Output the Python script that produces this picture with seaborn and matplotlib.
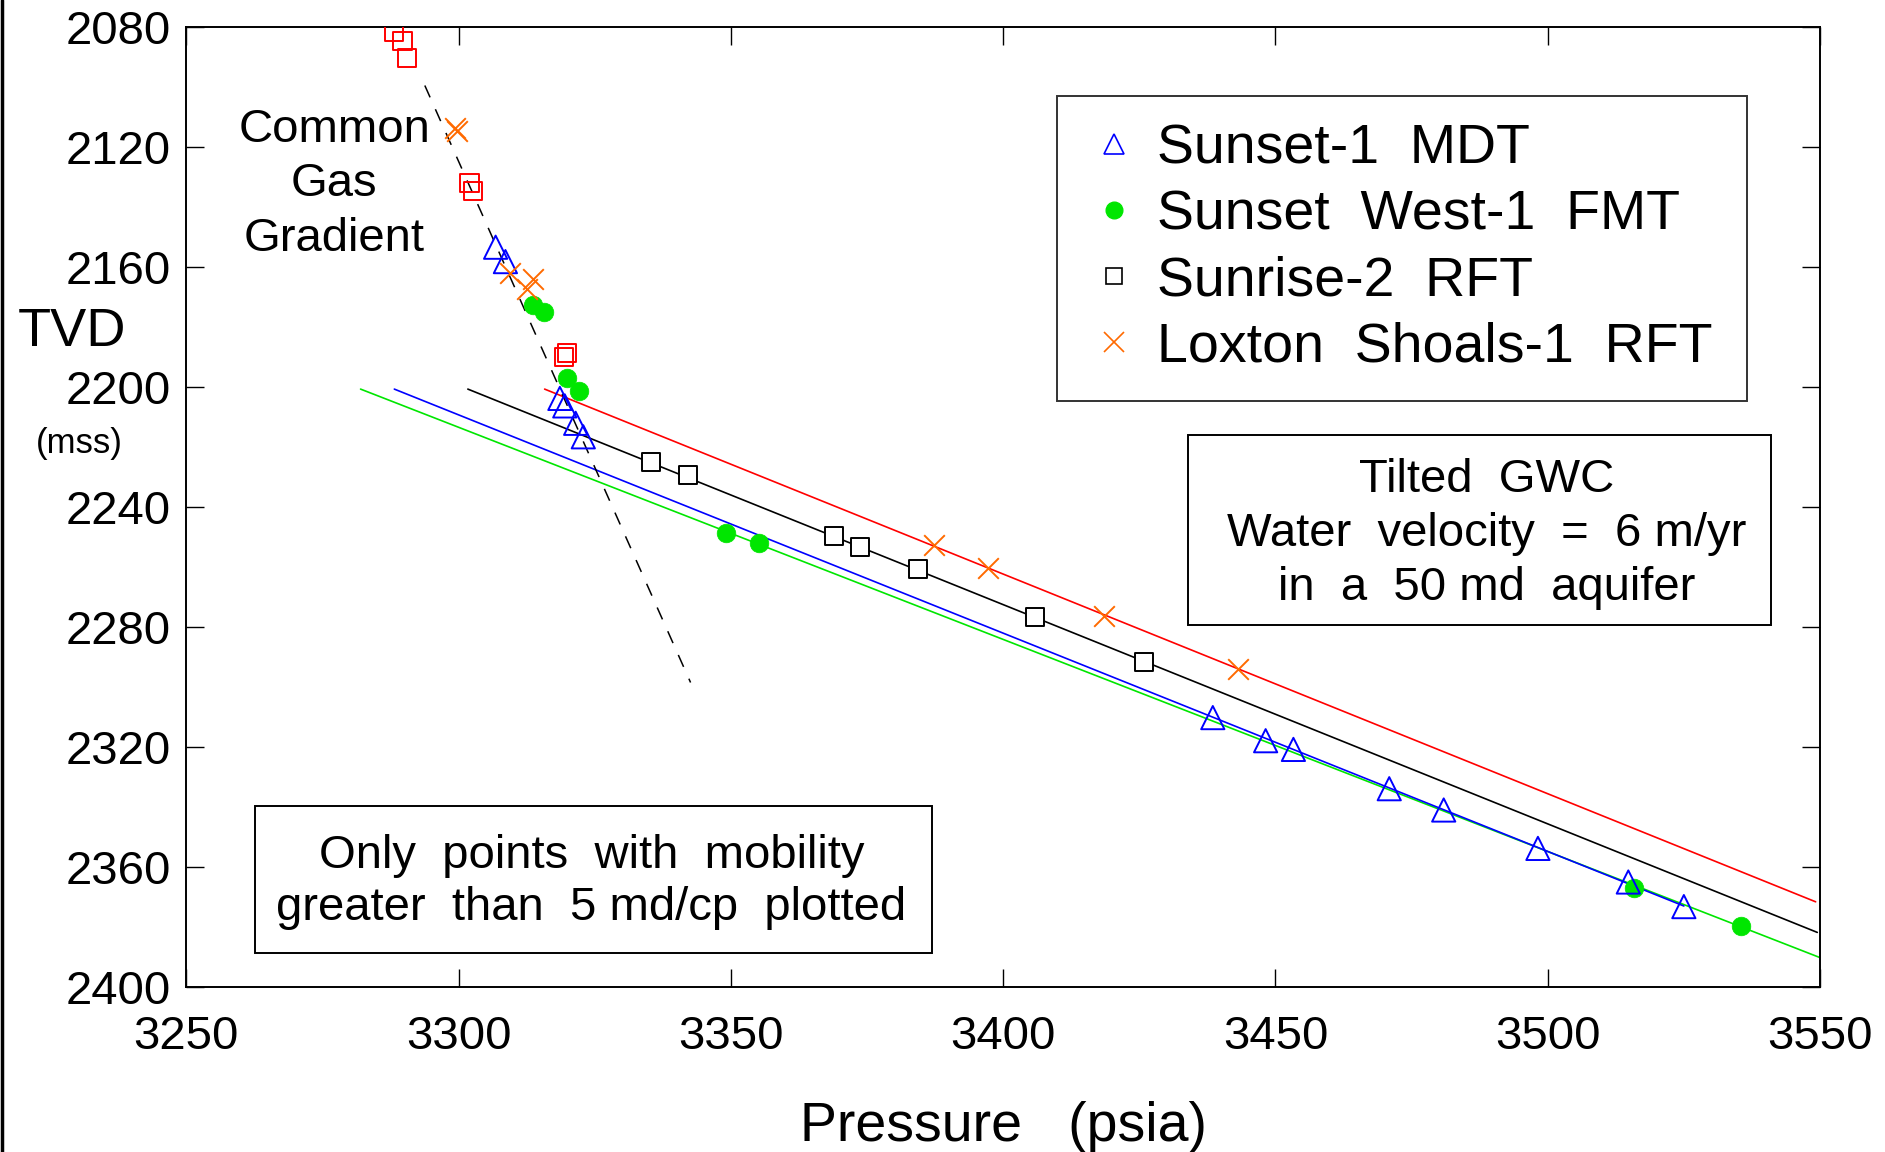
import matplotlib
matplotlib.use("Agg")
import matplotlib.pyplot as plt
import seaborn as sns
from matplotlib.lines import Line2D
from matplotlib.patches import Rectangle

sns.set_style("ticks", {"axes.edgecolor": "black", "xtick.color": "black", "ytick.color": "black",
                        "text.color": "black", "axes.labelcolor": "black"})
plt.rcParams["font.family"] = ["Liberation Sans", "DejaVu Sans"]

# Sunset-1 MDT (blue triangles)
sunset1_p = [3306.8, 3308.6, 3318.6, 3319.5, 3321.5, 3322.9, 3438.5, 3448.2, 3453.3,
             3470.9, 3480.9, 3498.2, 3514.8, 3525.0]
sunset1_tvd = [2153.4, 2158.2, 2203.8, 2206.3, 2212.1, 2216.6, 2310.2, 2317.9, 2320.8,
               2333.9, 2341.0, 2353.8, 2365.0, 2373.2]

# Sunset West-1 FMT (green dots)
sunsetw_p = [3313.7, 3315.6, 3319.9, 3322.2, 3349.1, 3355.2, 3515.9, 3535.5]
sunsetw_tvd = [2172.7, 2174.9, 2197.1, 2201.2, 2248.6, 2251.9, 2367.1, 2379.7]

# Sunrise-2 RFT, water leg (black) and gas leg (red)
sunrise_p = [3335.3, 3342.1, 3368.9, 3373.8, 3384.4, 3405.8, 3425.8]
sunrise_tvd = [2225.1, 2229.3, 2249.8, 2253.2, 2260.8, 2276.6, 2291.8]
sunrise_gas_p = [3288.2, 3289.7, 3290.5, 3302.0, 3302.6, 3319.4, 3319.9]
sunrise_gas_tvd = [2081.6, 2084.6, 2090.2, 2132.1, 2134.6, 2189.9, 2188.8]

# Loxton Shoals-1 RFT (orange crosses)
loxton_p = [3299.3, 3299.8, 3309.4, 3313.7, 3312.5, 3387.3, 3397.2, 3418.6, 3443.2]
loxton_tvd = [2113.8, 2114.6, 2162.1, 2164.1, 2167.4, 2252.7, 2260.4, 2276.2, 2294.1]

# gradient lines (end points)
green_line_p, green_line_tvd = [3282.0, 3550.0], [2200.7, 2390.2]
blue_line_p, blue_line_tvd = [3288.2, 3525.0], [2200.7, 2373.0]
black_line_p, black_line_tvd = [3301.7, 3549.5], [2200.7, 2381.8]
red_line_p, red_line_tvd = [3315.8, 3549.2], [2200.7, 2371.6]
gas_line_p, gas_line_tvd = [3293.8, 3342.6], [2099.5, 2298.5]

x_ticks = [3250, 3300, 3350, 3400, 3450, 3500, 3550]
y_ticks = [2080, 2120, 2160, 2200, 2240, 2280, 2320, 2360, 2400]

GREEN = "#00e600"
ORANGE = "#ff6a00"

fig = plt.figure(figsize=(18.85, 11.52), dpi=100)
ax = fig.add_axes([186.3 / 1885, 1 - 987 / 1152, 1633.7 / 1885, 960 / 1152])

# lines
lw = 1.2
sns.lineplot(x=green_line_p, y=green_line_tvd, color=GREEN, lw=lw, ax=ax, sort=False, estimator=None)
sns.lineplot(x=blue_line_p, y=blue_line_tvd, color="blue", lw=lw, ax=ax, sort=False, estimator=None)
sns.lineplot(x=black_line_p, y=black_line_tvd, color="black", lw=lw, ax=ax, sort=False, estimator=None)
sns.lineplot(x=red_line_p, y=red_line_tvd, color="red", lw=lw, ax=ax, sort=False, estimator=None)
sns.lineplot(x=gas_line_p, y=gas_line_tvd, color="black", lw=1.1, ax=ax, sort=False,
             estimator=None, linestyle=(0, (8.5, 8.5)))

# points
mew = 1.4
sns.scatterplot(x=sunrise_gas_p, y=sunrise_gas_tvd, marker="s", s=170, color="red",
                facecolor="none", edgecolor="red", linewidth=mew, ax=ax, zorder=3)
sns.scatterplot(x=sunrise_p, y=sunrise_tvd, marker="s", s=150, color="black",
                facecolor="white", edgecolor="black", linewidth=mew, ax=ax, zorder=3)
sns.scatterplot(x=sunsetw_p, y=sunsetw_tvd, marker="o", s=180, color=GREEN,
                edgecolor=GREEN, linewidth=0.5, ax=ax, zorder=3)
sns.scatterplot(x=sunset1_p, y=sunset1_tvd, marker="^", s=280, color="blue",
                facecolor="none", edgecolor="blue", linewidth=mew, ax=ax, zorder=4)
sns.scatterplot(x=loxton_p, y=loxton_tvd, marker="x", s=220, color=ORANGE,
                linewidth=mew, ax=ax, zorder=4)

ax.set_xlim(3250, 3550)
ax.set_ylim(2400, 2080)
ax.set_xticks(x_ticks)
ax.set_yticks(y_ticks)
ax.set_xlabel("")
ax.set_ylabel("")
for sp in ax.spines.values():
    sp.set_linewidth(1.4)
    sp.set_color("black")
ax.tick_params(direction="in", length=13, width=1.0, top=True, right=True, labelsize=34,
               labelcolor="black")
ax.tick_params(axis="x", pad=20)
ax.tick_params(axis="y", pad=11)

# legend
handles = [
    Line2D([], [], marker="^", ls="none", mfc="none", mec="blue", ms=14, mew=1.2),
    Line2D([], [], marker="o", ls="none", mfc=GREEN, mec=GREEN, ms=12),
    Line2D([], [], marker="s", ls="none", mfc="none", mec="black", ms=11, mew=1.2),
    Line2D([], [], marker="x", ls="none", mec=ORANGE, ms=14, mew=1.2),
]
labels = ["Sunset-1  MDT", "Sunset  West-1  FMT", "Sunrise-2  RFT", "Loxton  Shoals-1  RFT"]
leg = ax.legend(handles, labels, loc="upper left", bbox_to_anchor=(0.533, 0.6135, 0.4223, 0.3145),
                mode="expand", borderaxespad=0, fontsize=40, frameon=True, fancybox=False,
                handlelength=1.06, handletextpad=0.24, borderpad=0.5, labelspacing=0.25)
leg.get_frame().set_edgecolor("black")
leg.get_frame().set_linewidth(1.4)

# annotation boxes
ax.add_patch(Rectangle((0.613, 0.377), 0.357, 0.1978, transform=ax.transAxes,
                       fill=False, ec="black", lw=1.4, zorder=5))
ax.text(0.796, 0.472, "Tilted  GWC\nWater  velocity  =  6 m/yr\nin  a  50 md  aquifer",
        transform=ax.transAxes, ha="center", va="center", fontsize=34, linespacing=1.29)

ax.add_patch(Rectangle((0.042, 0.0351), 0.4143, 0.1539, transform=ax.transAxes,
                       fill=False, ec="black", lw=1.4, zorder=5))
ax.text(0.248, 0.109, "Only  points  with  mobility\ngreater  than  5 md/cp  plotted",
        transform=ax.transAxes, ha="center", va="center", fontsize=34, linespacing=1.24)

ax.text(0.0905, 0.836, "Common\nGas\nGradient", transform=ax.transAxes,
        ha="center", va="center", fontsize=34, linespacing=1.3)

# axis titles
fig.text(0.0382, 0.712, "TVD", ha="center", va="center", fontsize=39)
fig.text(0.0421, 0.6149, "(mss)", ha="center", va="center", fontsize=25)
fig.text(0.5326, 0.022, "Pressure   (psia)", ha="center", va="center", fontsize=40)

# left border of the figure
fig.add_artist(Line2D([0.0012, 0.0012], [0, 1], transform=fig.transFigure, color="black", lw=2.5))

fig.savefig("out.png", dpi=100)
